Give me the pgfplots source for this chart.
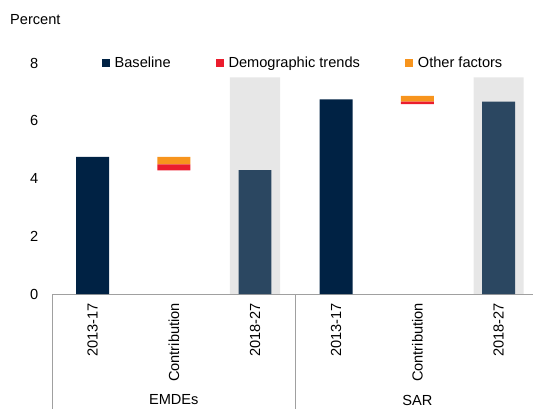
\documentclass[border=0pt]{standalone}
\usepackage{pgfplots}
\pgfplotsset{compat=1.18}
\usepackage{fontspec}
\setmainfont{Liberation Sans}
\definecolor{navy}{HTML}{002244}
\definecolor{slate}{HTML}{2B4761}
\definecolor{demred}{HTML}{EB1C2D}
\definecolor{othorange}{HTML}{F7941D}
\definecolor{shade}{HTML}{E7E7E7}
\definecolor{linegray}{HTML}{A0A0A0}
\begin{document}
\fontsize{14.6bp}{17bp}\selectfont
\begin{tikzpicture}
\useasboundingbox (0,0) rectangle (533bp,409bp);
\pgfplotsset{common/.style={at={(52bp,115bp)}, anchor=south west, scale only axis,
  width=481bp, height=231bp, xmin=-0.5, xmax=5.424, ymin=0, ymax=8, clip=false}}
% grey shading behind the forecast bars
\begin{axis}[common, hide axis]
\addplot[ybar, bar width=0.616, bar shift=0pt, fill=shade, draw=none] coordinates {(2,7.5) (5,7.5)};
\end{axis}
\begin{axis}[common, ybar stacked, bar width=0.406,
  axis line style={draw=none}, major tick length=0pt,
  xtick={0,1,2,3,4,5},
  xticklabels={2013-17,Contribution,2018-27,2013-17,Contribution,2018-27},
  xticklabel style={rotate=90, anchor=east, inner sep=0pt},
  xticklabel shift=9bp,
  ytick={0,2,4,6,8},
  yticklabel style={inner sep=0pt},
  yticklabel shift=13.5bp,
  /pgf/number format/assume math mode=true,
  legend style={at={(0.103,1.0)}, anchor=west, draw=none, fill=none, inner sep=0pt,
    legend columns=3, nodes={inner sep=0pt},
    /tikz/every odd column/.append style={column sep=5.5bp},
    /tikz/every even column/.append style={column sep=45bp}},
]
\addlegendimage{legend image code/.code={\fill[navy] (0bp,-3.5bp) rectangle (7bp,3.5bp);}}
\addlegendentry{Baseline}
\addlegendimage{legend image code/.code={\fill[demred] (0bp,-3.5bp) rectangle (7bp,3.5bp);}}
\addlegendentry{Demographic trends}
\addlegendimage{legend image code/.code={\fill[othorange] (0bp,-3.5bp) rectangle (7bp,3.5bp);}}
\addlegendentry{Other factors}
% invisible base for floating contribution bars
\addplot[forget plot, draw=none, fill=none] coordinates {(0,0) (1,4.28) (2,0) (3,0) (4,6.58) (5,0)};
% demographic trends
\addplot[forget plot, draw=none, fill=demred] coordinates {(0,0) (1,0.21) (2,0) (3,0) (4,0.08) (5,0)};
% other factors
\addplot[forget plot, draw=none, fill=othorange] coordinates {(0,0) (1,0.26) (2,0) (3,0) (4,0.20) (5,0)};
% baseline 2013-17
\addplot[forget plot, draw=none, fill=navy] coordinates {(0,4.75) (1,0) (2,0) (3,6.74) (4,0) (5,0)};
% 2018-27
\addplot[forget plot, draw=none, fill=slate] coordinates {(0,0) (1,0) (2,4.29) (3,0) (4,0) (5,6.66)};
\draw[linegray, line width=0.8bp] (axis cs:-0.5,0) -- (axis cs:5.424,0);
\draw[linegray, line width=0.8bp] (axis cs:-0.5,0) -- ++(0bp,-115bp);
\draw[linegray, line width=0.8bp] (axis cs:2.5,0) -- ++(0bp,-115bp);
\node at (axis cs:1,0) [yshift=-106bp] {EMDEs};
\node at (axis cs:4,0) [yshift=-106bp] {SAR};
\node[anchor=base west, inner sep=0pt] at (rel axis cs:0,1) [xshift=-42bp, yshift=39bp] {Percent};
\end{axis}
\end{tikzpicture}
\end{document}
